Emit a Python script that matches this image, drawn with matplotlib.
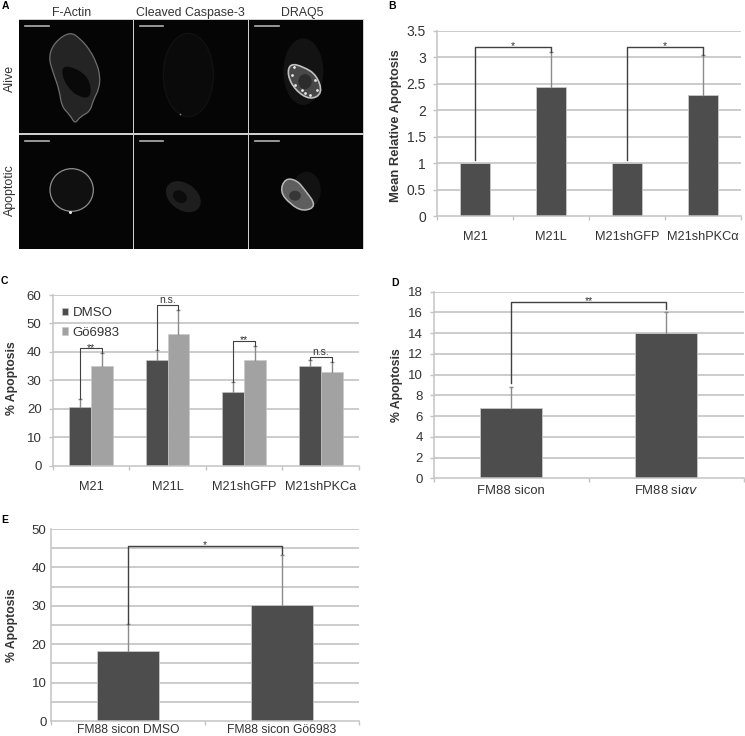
import matplotlib
matplotlib.use("Agg")
import matplotlib.pyplot as plt
from matplotlib.patches import Ellipse, PathPatch, Rectangle
from matplotlib.path import Path

plt.rcParams['font.family'] = ['Liberation Sans', 'DejaVu Sans']

FigW = 745
FigH = 736
BarDark = '#4d4d4d'
BarLight = '#a2a2a2'
GridColor = '#c4c4c4'
TextColor = '#333333'

# panel B
labelsB = ['M21', 'M21L', 'M21shGFP', 'M21shPKC\u03b1']
valuesB = [1, 2.44, 1, 2.29]
errTopB = [1, 3.1, 1, 3.05]
bracketsB = [(0, 1, 1.05, 3.2, 3.1, '*'), (2, 3, 1.05, 3.2, 3.05, '*')]
ticksB = [0, 0.5, 1, 1.5, 2, 2.5, 3, 3.5]
tickLabelsB = ['0', '0.5', '1', '1.5', '2', '2.5', '3', '3.5']

# panel C
labelsC = ['M21', 'M21L', 'M21shGFP', 'M21shPKCa']
dmsoC = [20.5, 37.1, 26, 35.2]
goC = [34.9, 46.3, 37, 33]
dmsoTopC = [23.5, 40.5, 29.5, 37]
goTopC = [39.5, 54.8, 42.2, 36.5]
bracketTopC = [41.2, 56.6, 43.7, 38.3]
bracketTextC = ['**', 'n.s.', '**', 'n.s.']

# panel D
labelsD = ['FM88 sicon', 'FM88 si$\\mathit{\\alpha v}$']
valuesD = [6.8, 14]
errTopD = [8.8, 16]
bracketsD = [(0, 1, 9.2, 17, 16.3, '**')]

# panel E
labelsE = ['FM88 sicon DMSO', 'FM88 sicon G\u00f66983']
valuesE = [18.2, 30.2]
errTopE = [25.2, 43.2]
bracketsE = [(0, 1, 25.2, 45.7, 43.4, '*')]

# panel A, all in 3x pixel coordinates of the top left crop
headersA = ['F-Actin', 'Cleaved Caspase-3', 'DRAQ5']
rowsA = ['Alive', 'Apoptotic']
actinAlive = [(210, 95), (240, 115), (270, 150), (290, 190), (300, 225), (298, 265), (280, 300),
              (270, 335), (240, 350), (225, 372), (210, 345), (185, 320), (178, 270), (160, 220),
              (145, 170), (165, 125)]
actinHole = [(190, 195), (240, 210), (272, 245), (272, 295), (235, 290), (205, 265), (185, 225)]
nucleusAlive = [(870, 190), (910, 200), (950, 225), (968, 280), (930, 300), (885, 270), (862, 225)]
nucleusApop = [(855, 535), (890, 540), (915, 570), (950, 618), (910, 635), (870, 612), (840, 575)]
spotsAlive = [(882, 200), (875, 225), (945, 240), (885, 255), (950, 270), (930, 285), (915, 280), (905, 270)]


def pixelAxes(x0, y0, x1, y1):
    return fig.add_axes([x0 / FigW, 1 - y1 / FigH, (x1 - x0) / FigW, (y1 - y0) / FigH])


def figText(x, y, s, **kw):
    kw.setdefault('ha', 'center')
    kw.setdefault('va', 'center')
    kw.setdefault('color', TextColor)
    fig.text(x / FigW, 1 - y / FigH, s, **kw)


# closed outline rounded off with the points as quadratic control points
def smoothShape(points, **kw):
    n = len(points)
    mid = [((points[i][0] + points[(i + 1) % n][0]) / 2, (points[i][1] + points[(i + 1) % n][1]) / 2)
           for i in range(n)]
    verts = [mid[-1]]
    codes = [Path.MOVETO]
    for i in range(n):
        verts += [points[i], mid[i]]
        codes += [Path.CURVE3, Path.CURVE3]
    return PathPatch(Path(verts, codes), **kw)


def setupBarAxes(ax, labels, yMax, ticks, tickLabels, gridTicks, labelSize, pad, tickLen=3, yPad=5, ySize=9.5):
    n = len(labels)
    ax.set_xlim(0, n)
    ax.set_ylim(0, yMax)
    ax.set_axisbelow(True)
    for spine in ['top', 'right']:
        ax.spines[spine].set_visible(False)
    for spine in ['left', 'bottom']:
        ax.spines[spine].set_color(GridColor)
        ax.spines[spine].set_linewidth(1.1)
    ax.set_yticks(ticks)
    ax.set_yticklabels(tickLabels, fontsize=ySize, color=TextColor)
    ax.tick_params(axis='y', length=tickLen, width=1, color=GridColor, pad=yPad)
    for t in gridTicks:
        if t > 0:
            ax.axhline(t, color=GridColor, lw=1.2, zorder=0)
    ax.set_xticks(range(n + 1))
    ax.set_xticklabels([])
    ax.tick_params(axis='x', which='major', length=3, width=1, color=GridColor)
    ax.set_xticks([i + 0.5 for i in range(n)], minor=True)
    ax.set_xticklabels(labels, minor=True, fontsize=labelSize, color=TextColor)
    ax.tick_params(axis='x', which='minor', length=0, pad=pad)


def errorLine(ax, x, low, top):
    ax.plot([x, x], [low, top], color='#8a8a8a', lw=1, zorder=3)
    ax.plot([x], [top], marker='_', ms=3, color='#8a8a8a', mew=1, zorder=3)


def bracket(ax, xa, xb, leftLow, top, rightLow, text, lw=1.0):
    ax.plot([xa, xa, xb, xb], [leftLow, top, top, rightLow], color='#404040', lw=lw, zorder=4)
    # the star glyph sits high in its box, so pull it down onto the bracket
    drop = -3 if '*' in text else -0.5
    ax.annotate(text, ((xa + xb) / 2, top), xytext=(0, drop), textcoords='offset points',
                ha='center', va='bottom', fontsize=7.5, color=TextColor)


def singleBars(ax, values, errTop, width):
    xs = [i + 0.5 for i in range(len(values))]
    ax.bar(xs, values, width=width, color=BarDark, edgecolor='#c8c8c8', lw=0.6, zorder=2)
    for x, v, t in zip(xs, values, errTop):
        if t > v:
            errorLine(ax, x, v, t)
    return xs


fig = plt.figure(figsize=(FigW / 100, FigH / 100), dpi=100)

# A: micrographs
axA = pixelAxes(0, 0, 385, 260)
axA.set_xlim(0, 1155)
axA.set_ylim(780, 0)
axA.axis('off')
axA.add_patch(Rectangle((56, 58), 1036, 690, fc='#cfcfcf', ec='none'))
for (x0, x1) in [(58, 398), (402, 744), (748, 1090)]:
    for (y0, y1) in [(60, 400), (405, 746)]:
        axA.add_patch(Rectangle((x0, y0), x1 - x0, y1 - y0, fc='#050505', ec='none'))
    axA.plot([x0 + 17, x0 + 88], [78, 78], color='#b0b0b0', lw=1.2)
    axA.plot([x0 + 17, x0 + 88], [423, 423], color='#b0b0b0', lw=1.2)
axA.add_patch(smoothShape(actinAlive, fc='#242424', ec='#6e6e6e', lw=0.9))
axA.add_patch(smoothShape(actinHole, fc='#090909', ec='none'))
axA.add_patch(Ellipse((565, 225), 150, 250, fc='#0a0a0a', ec='#111111', lw=1))
axA.plot([540], [342], marker='o', ms=1.2, color='#888888', mew=0)
axA.add_patch(Ellipse((910, 215), 120, 200, fc='#131313', ec='none'))
axA.add_patch(smoothShape(nucleusAlive, fc='#484848', ec='#c0c0c0', lw=1.2))
axA.add_patch(Ellipse((915, 245), 40, 45, fc='#2c2c2c', ec='none'))
for p in spotsAlive:
    axA.plot([p[0]], [p[1]], marker='o', ms=2, color='#e8e8e8', mew=0)
axA.add_patch(Ellipse((215, 570), 130, 128, fc='#101010', ec='#8e8e8e', lw=0.9))
axA.plot([210], [635], marker='o', ms=2.2, color='#e0e0e0', mew=0)
axA.add_patch(Ellipse((550, 590), 115, 80, angle=35, fc='#1e1e1e', ec='none'))
axA.add_patch(Ellipse((540, 590), 45, 35, angle=35, fc='#0c0c0c', ec='none'))
axA.add_patch(Ellipse((920, 570), 85, 110, fc='#121212', ec='none'))
axA.add_patch(smoothShape(nucleusApop, fc='#5e5e5e', ec='#b8b8b8', lw=1.1))
axA.add_patch(Ellipse((885, 587), 35, 30, fc='#363636', ec='none'))
for x, s in zip([72, 190, 302], headersA):
    figText(x, 13, s, fontsize=8.9)
for y, s in zip([78, 190], rowsA):
    figText(10, y, s, fontsize=8.9, rotation=90)

# B
axB = pixelAxes(437, 30.7, 741, 216)
setupBarAxes(axB, labelsB, 3.5, ticksB, tickLabelsB, ticksB, 9.2, 11, ySize=10)
singleBars(axB, valuesB, errTopB, 0.4)
for (a, b, low, top, rightLow, text) in bracketsB:
    bracket(axB, a + 0.5, b + 0.5, low, top, rightLow, text)

# C
axC = pixelAxes(52.7, 295, 359, 465.7)
ticksC = list(range(0, 70, 10))
setupBarAxes(axC, labelsC, 60, ticksC, [str(t) for t in ticksC], ticksC, 9.2, 11)
barWidth = 0.285
xsC = [i + 0.5 for i in range(len(labelsC))]
hDmso = axC.bar([x - barWidth / 2 for x in xsC], dmsoC, width=barWidth, color=BarDark,
                edgecolor='#c8c8c8', lw=0.4, zorder=2, label='DMSO')
hGo = axC.bar([x + barWidth / 2 for x in xsC], goC, width=barWidth, color=BarLight,
              edgecolor='#c8c8c8', lw=0.4, zorder=2, label='G\u00f66983')
for i, x in enumerate(xsC):
    xa = x - barWidth / 2
    xb = x + barWidth / 2
    errorLine(axC, xa, dmsoC[i], dmsoTopC[i])
    errorLine(axC, xb, goC[i], goTopC[i])
    bracket(axC, xa, xb, dmsoTopC[i], bracketTopC[i], goTopC[i], bracketTextC[i], lw=0.8)
axC.legend(handles=[hDmso, hGo], loc='upper left', bbox_to_anchor=(0.03, 0.93), frameon=False,
           fontsize=9.5, handlelength=0.5, handleheight=0.5, handletextpad=0.3, labelspacing=0.6,
           labelcolor=TextColor, borderpad=0, borderaxespad=0)

# D, baseline alignment so the math label sits level with the plain one
axD = pixelAxes(433.7, 291.7, 744, 478.3)
ticksD = list(range(0, 20, 2))
setupBarAxes(axD, labelsD, 18, ticksD, [str(t) for t in ticksD], ticksD, 9.4, 11)
for t in axD.get_xticklabels(minor=True):
    t.set_verticalalignment('baseline')
singleBars(axD, valuesD, errTopD, 0.4)
for (a, b, low, top, rightLow, text) in bracketsD:
    bracket(axD, a + 0.5, b + 0.5, low, top, rightLow, text)

# E
axE = pixelAxes(50.7, 529, 359, 721)
ticksE = list(range(0, 60, 10))
gridE = list(range(0, 55, 5))
setupBarAxes(axE, labelsE, 50, ticksE, [str(t) for t in ticksE], gridE, 8.7, 2, tickLen=0, yPad=3)
singleBars(axE, valuesE, errTopE, 0.4)
for (a, b, low, top, rightLow, text) in bracketsE:
    bracket(axE, a + 0.5, b + 0.5, low, top, rightLow, text)

# axis titles and panel letters
figText(396, 126, 'Mean Relative Apoptosis', fontsize=9.4, fontweight='bold', rotation=90)
figText(12, 378, '% Apoptosis', fontsize=8.8, fontweight='bold', rotation=90)
figText(397, 385, '% Apoptosis', fontsize=8.8, fontweight='bold', rotation=90)
figText(12, 625, '% Apoptosis', fontsize=8.8, fontweight='bold', rotation=90)
for x, y, s in [(5, 6, 'A'), (392, 6, 'B'), (4, 281, 'C'), (395, 283, 'D'), (5, 520, 'E')]:
    figText(x, y, s, fontsize=7.5, fontweight='bold', color='black')

fig.savefig('out.png', dpi=100)
